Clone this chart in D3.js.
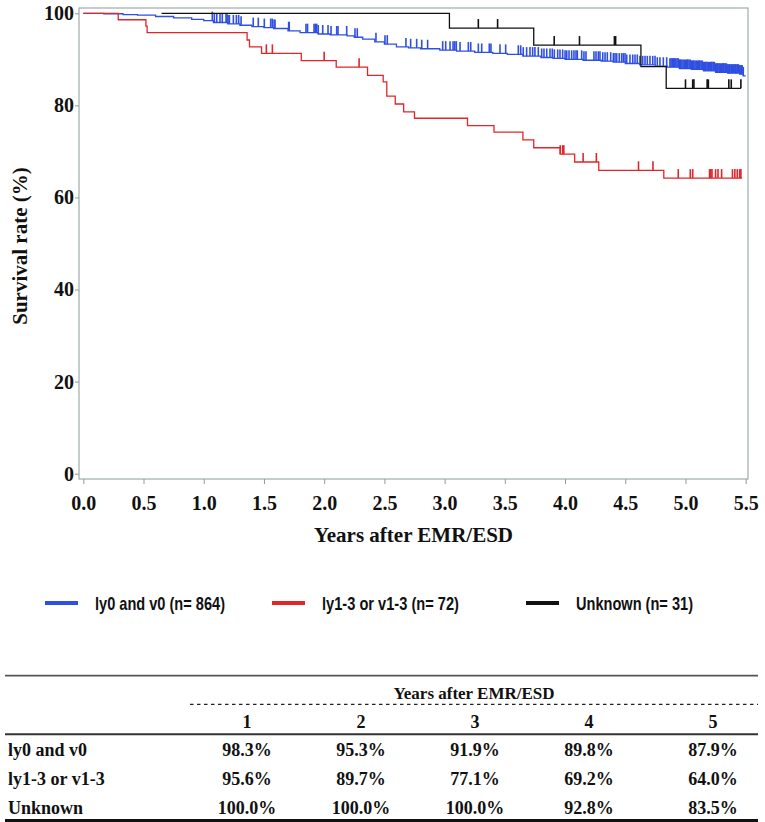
<!DOCTYPE html>
<html>
<head>
<meta charset="utf-8">
<script src="https://cdn.jsdelivr.net/npm/d3@7"></script>
<style>
  body { margin: 0; background: #fff; }
  svg { display: block; }
  .tick text { font-family: "Liberation Serif", "Times New Roman", serif; font-weight: bold; font-size: 20px; fill: #111; }
  .tick line { stroke: #8e9c9c; }
</style>
</head>
<body>
<div id="chart"></div>
<script>
// Kaplan-Meier steps [years, survival %]
const blueSteps = [[0,100],[0.17,99.9],[0.33,99.7],[0.45,99.6],[0.6,99.3],[0.75,99.0],[0.9,98.7],[1.0,98.4],[1.08,98.0],
  [1.2,97.7],[1.3,97.4],[1.4,97.1],[1.5,96.9],[1.58,96.7],[1.7,96.2],[1.8,95.8],[1.95,95.5],[2.05,95.3],[2.19,95.1],
  [2.25,94.8],[2.32,94.4],[2.42,93.8],[2.5,93.3],[2.6,92.7],[2.7,92.5],[2.8,92.3],[2.96,92.0],[3.1,91.8],[3.25,91.5],
  [3.4,91.3],[3.52,91.1],[3.65,90.7],[3.8,90.4],[3.9,90.2],[4.0,90.0],[4.15,89.8],[4.3,89.6],[4.4,89.4],[4.5,89.1],
  [4.62,88.8],[4.75,88.5],[4.85,88.3],[4.95,88.0],[5.05,87.8],[5.15,87.5],[5.25,87.2],[5.35,87.0],[5.45,86.8],[5.48,86.4]]
const blueEnd = 5.5
const blueCensor = [1.071,1.088,1.108,1.135,1.154,1.185,1.193,1.202,1.213,1.246,1.271,1.290,1.310,1.411,1.453,1.503,
  1.556,1.569,1.584,1.592,1.705,1.71,1.849,1.862,1.916,1.926,1.938,1.951,1.988,2.032,2.057,2.104,2.115,2.187,2.256,2.275,
  2.430,2.505,2.524,2.679,2.718,2.768,2.810,2.859,2.984,3.009,3.045,3.070,3.084,3.097,3.128,3.197,3.217,3.280,3.308,
  3.371,3.385,3.460,3.507,3.612,3.632,3.653,3.681,3.709,3.731,3.750,3.778,3.806,3.825,3.848,3.875,3.894,3.911,3.939,
  3.958,3.980,4.000,4.014,4.033,4.055,4.074,4.091,4.102,4.138,4.157,4.174,4.240,4.257,4.276,4.290,4.313,4.332,4.351,
  4.379,4.401,4.415,4.429,4.450,4.470,4.484,4.498,4.512,4.539,4.562,4.581,4.600,4.622,4.645,4.664,4.683,4.705,4.728,
  4.747,4.766,4.788,4.816,4.844,4.871,4.88,4.89,4.90,4.905,4.91,4.92,4.93,4.94,4.95,4.955,4.96,4.97,4.98,4.99,5.00,
  5.01,5.015,5.02,5.03,5.04,5.05,5.06,5.065,5.07,5.08,5.09,5.10,5.11,5.115,5.12,5.13,5.14,5.15,5.16,5.165,5.17,5.18,
  5.19,5.20,5.21,5.215,5.22,5.23,5.24,5.25,5.26,5.265,5.27,5.28,5.29,5.30,5.31,5.315,5.32,5.33,5.34,5.35,5.36,5.365,
  5.37,5.38,5.39,5.40,5.41,5.415,5.42,5.43,5.44,5.45,5.46,5.465,5.47,5.48]

const redSteps = [[0,100],[0.29,98.6],[0.52,97.2],[0.53,95.8],[1.36,94.2],[1.38,92.7],[1.48,91.3],[1.81,89.7],[2.10,88.3],
  [2.36,86.5],[2.49,85.1],[2.52,82.0],[2.59,80.3],[2.66,78.6],[2.75,77.2],[3.19,75.6],[3.41,74.2],[3.65,72.5],[3.74,70.8],
  [3.96,69.4],[4.08,67.7],[4.28,65.9],[4.82,64.2]]
const redEnd = 5.47
const redCensor = [1.52,1.57,2.0,2.29,3.96,3.98,3.99,4.15,4.26,4.61,4.73,4.94,5.04,5.06,5.20,5.21,5.22,5.25,5.27,5.30,
  5.39,5.41,5.43,5.45,5.46]

const blackSteps = [[0.65,100],[3.04,96.8],[3.74,93.1],[4.63,88.4],[4.84,83.7]]
const blackEnd = 5.46
const blackCensor = [3.28,3.44,3.91,4.12,4.41,4.42,5.00,5.06,5.07,5.18,5.19,5.36,5.38,5.46]

const legendLabels = ["ly0 and v0 (n= 864)", "ly1-3 or v1-3 (n= 72)", "Unknown (n= 31)"]
const groupColors = ["#2f4fe0", "#e0262a", "#111111"]

const xTicks = [0, 0.5, 1, 1.5, 2, 2.5, 3, 3.5, 4, 4.5, 5, 5.5]
const yTicks = [0, 20, 40, 60, 80, 100]

const tableYears = [1, 2, 3, 4, 5]
const tableGroups = ["ly0 and v0", "ly1-3 or v1-3", "Unknown"]
const tableRates = [
  [98.3, 95.3, 91.9, 89.8, 87.9],
  [95.6, 89.7, 77.1, 69.2, 64.0],
  [100.0, 100.0, 100.0, 92.8, 83.5]
]

const W = 765, H = 822
const FRAME = { LEFT: 79, RIGHT: 748, TOP: 8, BOTTOM: 479 }
const serif = '"Liberation Serif", "Times New Roman", serif'
const sans = '"Liberation Sans", Arial, sans-serif'

const svg = d3.select("#chart").append("svg")
  .attr("width", W)
  .attr("height", H)

// Scales
const x = d3.scaleLinear().domain([0, 5.5]).range([83.3, 745.7])
const y = d3.scaleLinear().domain([0, 100]).range([473.7, 13.3])

// frame
svg.append("rect")
  .attr("x", FRAME.LEFT).attr("y", FRAME.TOP)
  .attr("width", FRAME.RIGHT - FRAME.LEFT)
  .attr("height", FRAME.BOTTOM - FRAME.TOP)
  .attr("fill", "none")
  .attr("stroke", "#9eabab")
  .attr("stroke-width", 1.2)

// Axes
const xAxis = svg.append("g")
  .attr("transform", `translate(0, ${FRAME.BOTTOM})`)
  .call(d3.axisBottom(x).tickValues(xTicks).tickFormat(d3.format(".1f")).tickSize(5).tickPadding(12))
xAxis.select(".domain").remove()

const yAxis = svg.append("g")
  .attr("transform", `translate(${FRAME.LEFT}, 0)`)
  .call(d3.axisLeft(y).tickValues(yTicks).tickSize(4).tickPadding(1))
yAxis.select(".domain").remove()

svg.append("text")
  .attr("x", (FRAME.LEFT + FRAME.RIGHT) / 2)
  .attr("y", 542)
  .attr("text-anchor", "middle")
  .attr("font-family", serif).attr("font-weight", "bold").attr("font-size", "21px")
  .attr("fill", "#111")
  .text("Years after EMR/ESD")

svg.append("text")
  .attr("transform", "rotate(-90)")
  .attr("x", -246)
  .attr("y", 27)
  .attr("text-anchor", "middle")
  .attr("font-family", serif).attr("font-weight", "bold").attr("font-size", "21px")
  .attr("fill", "#111")
  .text("Survival rate (%)")

// survival curves
function valueAt(steps, t) {
  let v = steps[0][1]
  steps.forEach(d => { if (d[0] <= t) v = d[1] })
  return v
}

const stepLine = d3.line()
  .x(d => x(d[0]))
  .y(d => y(d[1]))
  .curve(d3.curveStepAfter)

const curves = [
  { steps: blueSteps, end: blueEnd, censor: blueCensor, color: groupColors[0] },
  { steps: redSteps, end: redEnd, censor: redCensor, color: groupColors[1] },
  { steps: blackSteps, end: blackEnd, censor: blackCensor, color: groupColors[2] }
]

curves.forEach(c => {
  const pts = c.steps.concat([[c.end, c.steps[c.steps.length - 1][1]]])
  const g = svg.append("g")
  g.append("path")
    .attr("d", stepLine(pts))
    .attr("fill", "none")
    .attr("stroke", c.color)
    .attr("stroke-width", 1.3)
  g.selectAll("line")
    .data(c.censor)
    .enter().append("line")
    .attr("x1", d => x(d)).attr("x2", d => x(d))
    .attr("y1", d => y(valueAt(c.steps, d)))
    .attr("y2", d => y(valueAt(c.steps, d)) - 9)
    .attr("stroke", c.color)
    .attr("stroke-width", 1.6)
})

// Legend
const legendX = [45, 272, 526]
const legendW = [130, 137, 117]
const legend = svg.append("g").attr("transform", "translate(0, 603)")
legendLabels.forEach((lab, i) => {
  legend.append("line")
    .attr("x1", legendX[i]).attr("x2", legendX[i] + 33)
    .attr("stroke", groupColors[i]).attr("stroke-width", 4)
  legend.append("text")
    .attr("x", legendX[i] + 50)
    .attr("y", 6.5)
    .attr("font-family", sans).attr("font-weight", "bold").attr("font-size", "19px")
    .attr("textLength", legendW[i]).attr("lengthAdjust", "spacingAndGlyphs")
    .attr("fill", "#111")
    .text(lab)
})

// Table
const colX = d3.scaleOrdinal().domain(tableYears).range([247, 361, 475, 589, 713])
const rowY = d3.scalePoint().domain(tableGroups).range([750, 808])
const tbl = svg.append("g")
  .attr("font-family", serif).attr("font-weight", "bold").attr("font-size", "18px")
  .attr("fill", "#111")

tbl.append("line").attr("x1", 5).attr("x2", 758).attr("y1", 675.7).attr("y2", 675.7)
  .attr("stroke", "#555").attr("stroke-width", 1.8)
tbl.append("line").attr("x1", 190).attr("x2", 758).attr("y1", 704.3).attr("y2", 704.3)
  .attr("stroke", "#222").attr("stroke-width", 1.3).attr("stroke-dasharray", "3.5,3.5")
tbl.append("line").attr("x1", 5).attr("x2", 758).attr("y1", 734.3).attr("y2", 734.3)
  .attr("stroke", "#333").attr("stroke-width", 2)
tbl.append("line").attr("x1", 5).attr("x2", 758).attr("y1", 820.5).attr("y2", 820.5)
  .attr("stroke", "#111").attr("stroke-width", 3)

tbl.append("text")
  .attr("x", 474).attr("y", 692.7).attr("dy", "0.35em")
  .attr("text-anchor", "middle")
  .attr("font-size", "17px")
  .text("Years after EMR/ESD")

tbl.selectAll(".colhead")
  .data(tableYears)
  .enter().append("text")
  .attr("x", d => colX(d)).attr("y", 721.7).attr("dy", "0.35em")
  .attr("text-anchor", "middle")
  .text(d => d)

tableGroups.forEach((g, i) => {
  tbl.append("text")
    .attr("x", 8).attr("y", rowY(g)).attr("dy", "0.35em")
    .text(g)
  tbl.selectAll(".r" + i)
    .data(tableRates[i])
    .enter().append("text")
    .attr("x", (d, j) => colX(tableYears[j])).attr("y", rowY(g)).attr("dy", "0.35em")
    .attr("text-anchor", "middle")
    .text(d => d.toFixed(1) + "%")
})
</script>
</body>
</html>
